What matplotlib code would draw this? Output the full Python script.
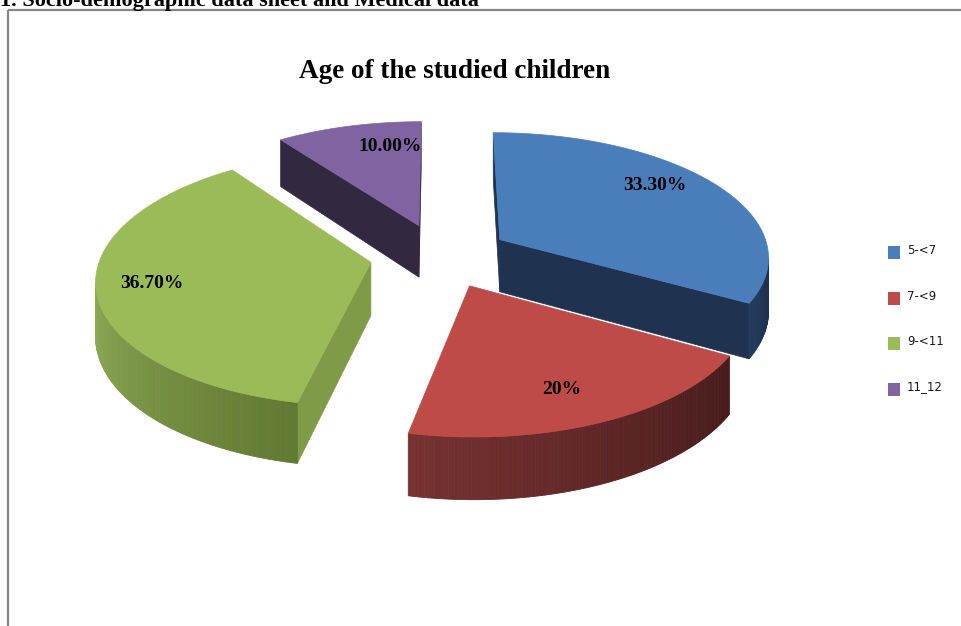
import numpy as np
import matplotlib.pyplot as plt
from matplotlib.patches import Polygon, Rectangle
from matplotlib.colors import to_rgb

# data
categories = ["5-<7", "7-<9", "9-<11", "11_12"]
values = [33.3, 20.0, 36.7, 10.0]
pct_labels = ["33.30%", "20%", "36.70%", "10.00%"]

# styling per slice
top_colors = ["#4A7EBB", "#BE4B48", "#9BBB59", "#8064A2"]
wall_left = ["#233A5B", "#763231", "#8EAA55", "#3A2E4A"]
wall_right = ["#1C2E48", "#461B1B", "#617932", "#2E2439"]
radial_colors = ["#1F3350", "#5A2222", "#7F9B48", "#32283F"]
label_ang = [53.1, 157.8, 258.3, 350.1]
label_rad = [0.79, 0.77, 0.80, 0.75]

# pie geometry in pixels (pseudo 3D with perspective)
cx, cy = 440.0, 255.5
A, B, T = 270.0, 124.0, 53.0
D = 8.0
explode = 0.26


def proj(X, Y, Z):
    s = D / (D + Y)
    return cx + A * X * s, cy - B * Y * s - T * Z * s


cam = np.array([0.0, -D, B * D / T])


def visible(n, p):
    return np.dot(n, cam - np.asarray(p)) > 0


def mix(c1, c2, t):
    a, b = np.array(to_rgb(c1)), np.array(to_rgb(c2))
    return tuple(a * (1 - t) + b * t)


fig = plt.figure(figsize=(9.62, 6.26), dpi=100)
ax = fig.add_axes([0, 0, 1, 1])
ax.set_xlim(0, 962)
ax.set_ylim(626, 0)
ax.axis("off")

# chart frame
ax.plot([8, 8], [10, 626], color="#868686", lw=1.6, solid_capstyle="butt")
ax.plot([8, 962], [10, 10], color="#868686", lw=1.6, solid_capstyle="butt")

fig.text(-0.003, 626 - 6, "1. Socio-demographic data sheet and Medical data",
         transform=None, family="Liberation Serif", weight="bold", fontsize=16,
         va="baseline", ha="left")
ax.text(455, 78, "Age of the studied children", family="Liberation Serif",
        weight="bold", fontsize=19.5, ha="center", va="baseline")

bounds = np.concatenate([[0], np.cumsum(values)]) / sum(values) * 360.0
slices = []
for i in range(len(values)):
    a0, a1 = bounds[i], bounds[i + 1]
    mid = np.radians((a0 + a1) / 2)
    ox, oy = explode * np.sin(mid), explode * np.cos(mid)
    slices.append((oy, i, a0, a1, ox))

# back to front
for oy, i, a0, a1, ox in sorted(slices, key=lambda s: -s[0]):
    th = np.radians(np.linspace(a0, a1, 120))
    rimX = ox + np.sin(th)
    rimY = oy + np.cos(th)

    # radial faces
    for ang, sign in ((a0, -1), (a1, 1)):
        r = np.radians(ang)
        n = sign * np.array([np.cos(r), -np.sin(r), 0.0])
        px, py = ox + np.sin(r), oy + np.cos(r)
        if visible(n, (ox, oy, 0)):
            pts = [proj(ox, oy, 0), proj(px, py, 0), proj(px, py, -1), proj(ox, oy, -1)]
            ax.add_patch(Polygon(pts, closed=True, fc=radial_colors[i],
                                 ec=radial_colors[i], lw=0.5))

    # outer wall
    vis = []
    for k in range(len(th) - 1):
        tm = (th[k] + th[k + 1]) / 2
        n = np.array([np.sin(tm), np.cos(tm), 0.0])
        if visible(n, (ox + np.sin(tm), oy + np.cos(tm), 0)):
            vis.append(k)
    if vis:
        kmin, kmax = min(vis), max(vis)
        for k in vis:
            t = 1 - (k - kmin) / max(kmax - kmin, 1)
            c = mix(wall_left[i], wall_right[i], t)
            pts = [proj(rimX[k], rimY[k], 0), proj(rimX[k + 1], rimY[k + 1], 0),
                   proj(rimX[k + 1], rimY[k + 1], -1), proj(rimX[k], rimY[k], -1)]
            ax.add_patch(Polygon(pts, closed=True, fc=c, ec=c, lw=0.6))

    # top face
    pts = [proj(ox, oy, 0)] + [proj(x, y, 0) for x, y in zip(rimX, rimY)]
    ax.add_patch(Polygon(pts, closed=True, fc=top_colors[i], ec=top_colors[i], lw=0.5))

# value labels
for oy, i, a0, a1, ox in slices:
    r = np.radians(label_ang[i])
    lx, ly = proj(ox + label_rad[i] * np.sin(r), oy + label_rad[i] * np.cos(r), 0)
    ax.text(lx, ly, pct_labels[i], family="Liberation Serif", weight="bold",
            fontsize=14, ha="center", va="center", color="black")

# legend
for i, name in enumerate(categories):
    yc = 252.5 + i * 45.5
    ax.add_patch(Rectangle((888, yc - 6.5), 12, 13, fc=top_colors[i], ec="none"))
    ax.text(907, yc - 2, name, family="DejaVu Sans", fontsize=8.5,
            ha="left", va="center", color="#1a1a1a")

fig.savefig("out.png", dpi=100)
